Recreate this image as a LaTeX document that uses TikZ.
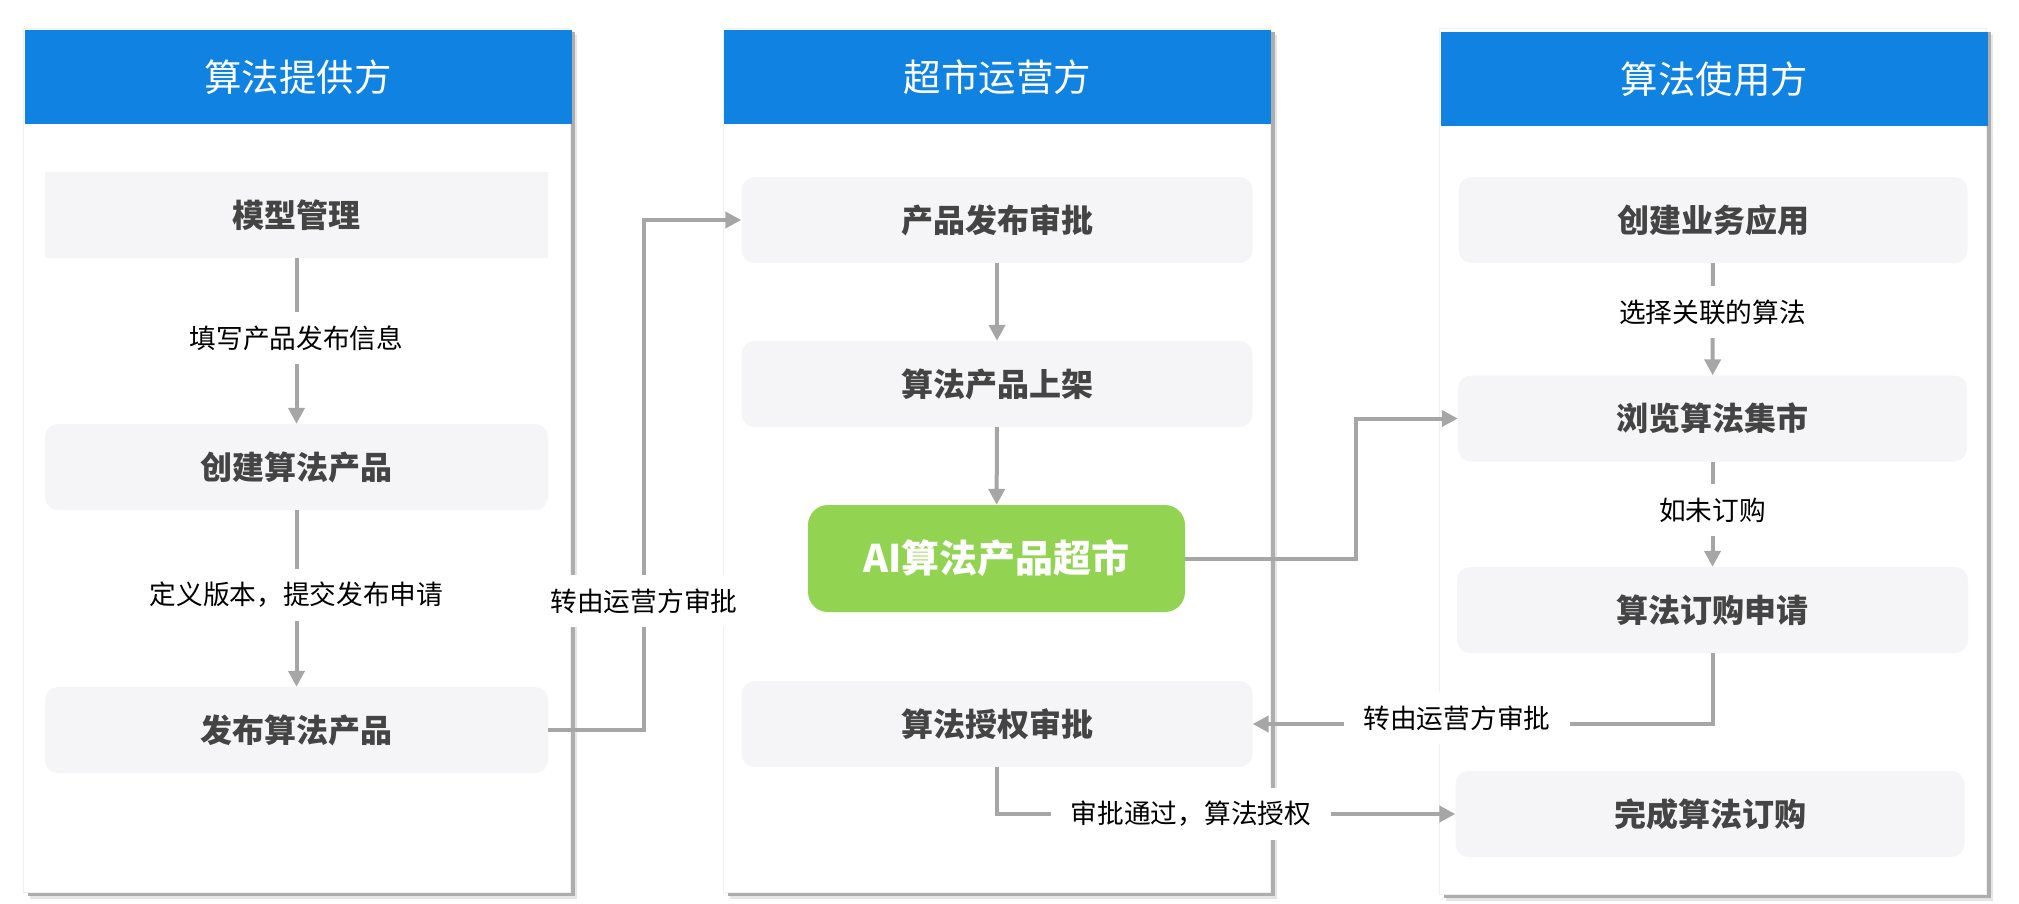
\documentclass[tikz,border=0pt]{standalone}
\usepackage{fontspec}
\setmainfont{Noto Sans CJK SC}
\usetikzlibrary{arrows.meta,shadows}
\definecolor{headblue}{HTML}{1083E2}
\definecolor{boxgray}{HTML}{F5F5F7}
\definecolor{marketgreen}{HTML}{92D451}
\definecolor{linegray}{HTML}{A6A6A6}
\definecolor{textgray}{HTML}{444444}

\begin{document}
\begin{tikzpicture}[x=1pt,y=-1pt]
    \useasboundingbox (0,0) rectangle (2019,903);
    \tikzset{panel/.style = {%
        shape= rectangle,
        fill= white,
        draw= black!6,
        inner sep= 0pt,
        minimum width = 547pt,
        drop shadow= {shadow xshift=6pt,shadow yshift=-7pt,fill=black!10,opacity=1},
        drop shadow= {shadow xshift=4pt,shadow yshift=-4pt,fill=black!32,opacity=1}}}
    \tikzset{head/.style = {%
        fill= headblue,
        text= white,
        inner sep= 0pt,
        minimum width = 547pt,
        minimum height = 94pt,
        font= \fontsize{37.5}{44}\selectfont}}
    \tikzset{stepbox/.style = {%
        fill= boxgray,
        text= textgray,
        rounded corners= 13pt,
        inner sep= 0pt,
        minimum width = 509pt,
        minimum height = 86pt,
        font= \fontsize{32}{38}\selectfont\bfseries}}
    \tikzset{lbl/.style = {%
        fill= white,
        text= black,
        inner xsep= 20pt,
        inner ysep= 0pt,
        minimum height = 52pt,
        font= \fontsize{26.7}{32}\selectfont}}
    \tikzset{conn/.style = {%
        draw= linegray,
        line width= 4pt,
        -{Triangle[length=16pt,width=16pt]}}}
    \node[panel,minimum height=864pt] (provider) at (297,460) {};
    \node[panel,minimum height=864pt] (operator) at (997,460) {};
    \node[panel,minimum height=866pt] (consumer) at (1713,461) {};
    \node[head] (headprovider) at (298,77) {算法提供方};
    \node[head] (headoperator) at (997.5,77) {超市运营方};
    \node[head] (headconsumer) at (1714.5,79) {算法使用方};
    \node[stepbox,rounded corners=0pt,minimum width=503pt] (model) at (296.5,215) {模型管理};
    \node[stepbox,minimum width=503pt] (create) at (296.5,467) {创建算法产品};
    \node[stepbox,minimum width=503pt] (publish) at (296.5,730) {发布算法产品};
    \node[stepbox,minimum width=511pt] (approve) at (997,220) {产品发布审批};
    \node[stepbox,minimum width=511pt] (shelf) at (997,384) {算法产品上架};
    \node[stepbox,fill=marketgreen,text=white,rounded corners=20pt,minimum width=377pt,minimum height=107pt,
        font=\fontsize{38}{44}\selectfont\bfseries] (market) at (996.5,558.5) {AI算法产品超市};
    \node[stepbox,minimum width=511pt] (grant) at (997,724) {算法授权审批};
    \node[stepbox] (app) at (1713,220) {创建业务应用};
    \node[stepbox] (browse) at (1712.5,418.5) {浏览算法集市};
    \node[stepbox,minimum width=511pt] (apply) at (1712.5,610) {算法订购申请};
    \node[stepbox] (finish) at (1710,814) {完成算法订购};
    \coordinate (bend) at (1356,480);
    \coordinate (turn) at (644,601);
    \draw[conn] (model) -- (create);
    \draw[conn] (create) -- (publish);
    \draw[conn] (publish.east) -| (turn) |- (approve.west);
    \draw[conn] (approve) -- (shelf);
    \draw[conn] (shelf) -- (market);
    \draw[conn] (market.east) -| (bend) |- (browse.west);
    \draw[conn] (apply.south) |- (grant.east);
    \draw[conn] (grant.south) |- (finish.west);
    \draw[conn] (app) -- (browse);
    \draw[conn] (browse) -- (apply);
    \node[lbl] (fill) at (296.5,338) {填写产品发布信息};
    \node[lbl] (define) at (296.5,595) {定义版本，提交发布申请};
    \node[lbl] (transfer) at (turn) {转由运营方审批};
    \node[lbl] (transferback) at (1457,718) {转由运营方审批};
    \node[lbl] (pass) at (1191,814) {审批通过，算法授权};
    \node[lbl,inner xsep=8pt] (select) at (1712.5,312) {选择关联的算法};
    \node[lbl,inner xsep=8pt] (unpaid) at (1712.5,510) {如未订购};
\end{tikzpicture}
\end{document}
